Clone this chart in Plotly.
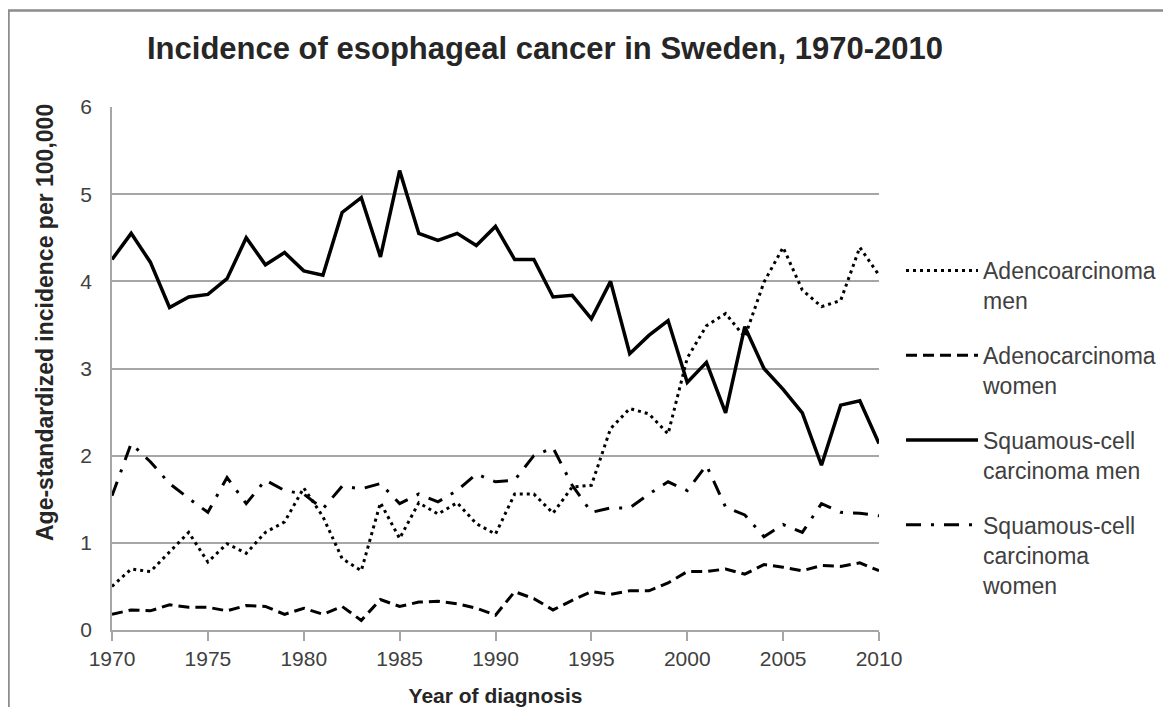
import plotly.graph_objects as go

years = list(range(1970, 2011))

adeno_men = [0.50, 0.70, 0.67, 0.89, 1.12, 0.78, 0.99, 0.88, 1.12, 1.24,
             1.63, 1.30, 0.82, 0.68, 1.46, 1.05, 1.46, 1.33, 1.46, 1.22,
             1.10, 1.56, 1.56, 1.34, 1.64, 1.66, 2.31, 2.54, 2.48, 2.25,
             3.12, 3.49, 3.63, 3.36, 3.99, 4.39, 3.90, 3.71, 3.78, 4.39,
             4.07]

adeno_women = [0.18, 0.23, 0.22, 0.29, 0.26, 0.26, 0.22, 0.28, 0.27, 0.18,
               0.25, 0.18, 0.27, 0.11, 0.35, 0.27, 0.32, 0.33, 0.30, 0.25,
               0.17, 0.44, 0.36, 0.23, 0.34, 0.44, 0.41, 0.45, 0.45, 0.54,
               0.67, 0.67, 0.70, 0.64, 0.75, 0.72, 0.68, 0.74, 0.73, 0.77,
               0.68]

scc_men = [4.25, 4.55, 4.22, 3.70, 3.82, 3.85, 4.03, 4.50, 4.19, 4.33,
           4.12, 4.07, 4.79, 4.96, 4.28, 5.27, 4.55, 4.47, 4.55, 4.41,
           4.63, 4.25, 4.25, 3.82, 3.84, 3.57, 4.00, 3.17, 3.38, 3.55,
           2.84, 3.07, 2.49, 3.48, 3.00, 2.76, 2.49, 1.89, 2.58, 2.63,
           2.14]

scc_women = [1.54, 2.14, 1.93, 1.68, 1.51, 1.35, 1.75, 1.45, 1.72, 1.60,
             1.56, 1.39, 1.65, 1.62, 1.68, 1.45, 1.56, 1.47, 1.60, 1.79,
             1.70, 1.72, 2.00, 2.09, 1.66, 1.35, 1.40, 1.40, 1.56, 1.70,
             1.60, 1.89, 1.41, 1.32, 1.07, 1.21, 1.12, 1.45, 1.35, 1.34,
             1.31]

series_names = ["Adencoarcinoma<br>men", "Adenocarcinoma<br>women",
                "Squamous-cell<br>carcinoma men", "Squamous-cell<br>carcinoma<br>women"]

x_ticks = list(range(1970, 2011, 5))
y_ticks = list(range(0, 7))

FONT = "Liberation Sans, Arial, sans-serif"

fig = go.Figure()
specs = [
    (adeno_men, series_names[0], "3px,4px", 3),
    (adeno_women, series_names[1], "11px,6px", 3),
    (scc_men, series_names[2], "solid", 3.5),
    (scc_women, series_names[3], "15px,10px,3px,10px", 3),
]
for i, (vals, name, dash, w) in enumerate(specs):
    fig.add_trace(go.Scatter(
        x=years, y=vals, name=name, mode="lines",
        line=dict(color="black", width=w, dash=dash),
        legendgroup=f"g{i}",
    ))

# the page body adds an 8px offset; positions below are in figure pixels
W, H = 1155, 699
L, R, T, B = 104, 284, 99, 77
pw, ph = W - L - R, H - T - B

def px_x(p):
    return (p - L) / pw

def px_y(p):
    return (H - B - p) / ph

fig.update_layout(
    width=W, height=H,
    margin=dict(l=L, r=R, t=T, b=B, autoexpand=False),
    paper_bgcolor="white", plot_bgcolor="white",
    font=dict(family=FONT, color="#404040", size=20),
    title=dict(text="<b>Incidence of esophageal cancer in Sweden, 1970-2010</b>",
               x=537 / W, xanchor="center", xref="container",
               y=1 - 40 / H, yanchor="middle", yref="container",
               font=dict(size=31, color="#262626", family=FONT)),
    showlegend=True,
    legend=dict(x=px_x(893), xanchor="left", y=px_y(241), yanchor="top",
                font=dict(size=23, color="#404040", family=FONT),
                itemwidth=72, valign="top", tracegroupgap=22,
                bgcolor="rgba(0,0,0,0)"),
    xaxis=dict(range=[1970, 2010], tickvals=x_ticks,
               ticktext=[str(v) for v in x_ticks],
               showgrid=False, zeroline=False, automargin=False,
               showline=True, linecolor="#a6a6a6", linewidth=1.5,
               ticks="outside", ticklen=9, tickcolor="#a6a6a6", tickwidth=1.5,
               tickfont=dict(size=21, color="#404040"),
               title=dict(text="<b>Year of diagnosis</b>", standoff=20,
                          font=dict(size=21, color="#262626"))),
    yaxis=dict(range=[0, 6], tickvals=y_ticks, automargin=False,
               showgrid=True, gridcolor="#a6a6a6", gridwidth=1.5,
               zeroline=False, showline=True, linecolor="#a6a6a6", linewidth=1.5,
               ticks="", ticklabelstandoff=14,
               tickfont=dict(size=21, color="#404040")),
    annotations=[dict(text="<b>Age-standardized incidence per 100,000</b>",
                      xref="paper", yref="paper", x=px_x(37), y=px_y(315),
                      xanchor="center", yanchor="middle", textangle=-90,
                      showarrow=False, font=dict(size=23, color="#262626"))],
    shapes=[dict(type="rect", xref="paper", yref="paper",
                 x0=px_x(0.5), x1=px_x(1200), y0=px_y(740), y1=px_y(2.5),
                 line=dict(color="#8c8c8c", width=2.5), fillcolor="rgba(0,0,0,0)",
                 layer="below")],
)

fig.write_html("out.html")
